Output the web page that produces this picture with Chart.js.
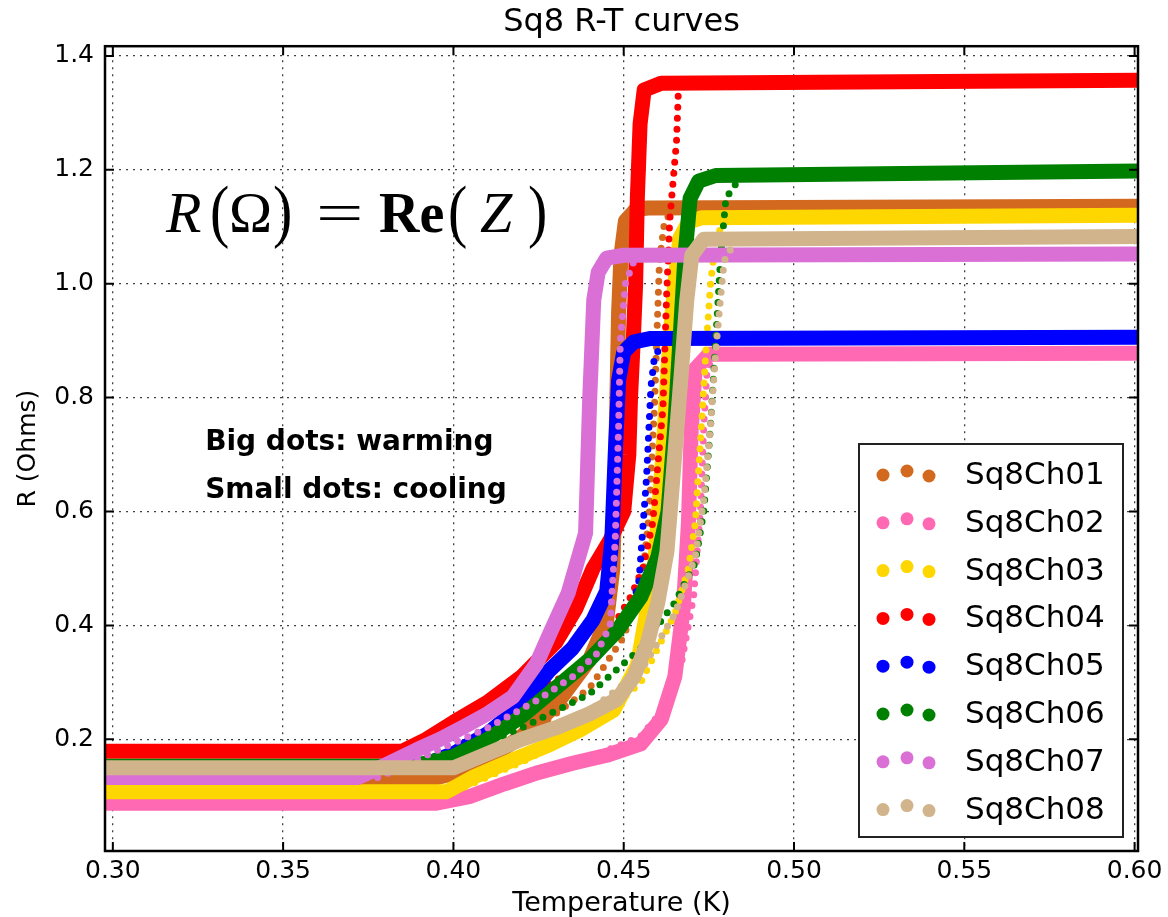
<!DOCTYPE html>
<html lang="en">
<head>
<meta charset="UTF-8">
<title>Sq8 R-T curves</title>
<script src="https://cdn.jsdelivr.net/npm/chart.js"></script>
<style>
  html, body { margin: 0; padding: 0; background: #fff; }
  #chartContainer { width: 1168px; height: 917px; position: relative; }
</style>
</head>
<body>
<div id="chartContainer"><canvas id="rtChart" width="1168" height="917"></canvas></div>
<script>
const channels = ['Sq8Ch01', 'Sq8Ch02', 'Sq8Ch03', 'Sq8Ch04', 'Sq8Ch05', 'Sq8Ch06', 'Sq8Ch07', 'Sq8Ch08'];
const colors = ['#D2691E', '#FF69B4', '#FFD700', '#FF0000', '#0000FF', '#008000', '#DA70D6', '#D2B48C'];

const tempTicks = [0.30, 0.35, 0.40, 0.45, 0.50, 0.55, 0.60];
const resTicks = [0.2, 0.4, 0.6, 0.8, 1.0, 1.2, 1.4];

// warming sweeps (big dots): temperature K / resistance Ohm
const ch01WarmT = [0.297, 0.390, 0.400, 0.410, 0.420, 0.430, 0.440, 0.445, 0.4468, 0.4475, 0.448, 0.4485, 0.4492, 0.4505, 0.4535, 0.457, 0.601];
const ch01WarmR = [0.125, 0.125, 0.140, 0.165, 0.205, 0.260, 0.340, 0.410, 0.500, 0.650, 0.800, 0.950, 1.050, 1.110, 1.130, 1.133, 1.136];
const ch02WarmT = [0.297, 0.395, 0.405, 0.415, 0.425, 0.435, 0.445, 0.455, 0.461, 0.465, 0.4675, 0.469, 0.4698, 0.4710, 0.4750, 0.601];
const ch02WarmR = [0.088, 0.088, 0.100, 0.122, 0.142, 0.158, 0.172, 0.192, 0.235, 0.310, 0.430, 0.580, 0.740, 0.850, 0.876, 0.878];
const ch03WarmT = [0.297, 0.398, 0.406, 0.4175, 0.428, 0.437, 0.447, 0.454, 0.459, 0.4615, 0.4635, 0.465, 0.4665, 0.469, 0.473, 0.601];
const ch03WarmR = [0.108, 0.108, 0.134, 0.164, 0.190, 0.216, 0.251, 0.330, 0.500, 0.700, 0.900, 1.000, 1.080, 1.108, 1.116, 1.120];
const ch04WarmT = [0.297, 0.385, 0.392, 0.400, 0.410, 0.420, 0.430, 0.436, 0.441, 0.446, 0.450, 0.4515, 0.452, 0.4528, 0.4535, 0.454, 0.4548, 0.456, 0.461, 0.601];
const ch04WarmR = [0.179, 0.179, 0.200, 0.230, 0.265, 0.310, 0.370, 0.430, 0.500, 0.550, 0.600, 0.700, 0.800, 0.900, 1.000, 1.150, 1.280, 1.340, 1.352, 1.357];
const ch05WarmT = [0.297, 0.390, 0.400, 0.410, 0.420, 0.428, 0.435, 0.441, 0.445, 0.4465, 0.4475, 0.4485, 0.450, 0.453, 0.458, 0.601];
const ch05WarmR = [0.152, 0.152, 0.175, 0.210, 0.260, 0.320, 0.360, 0.410, 0.460, 0.550, 0.700, 0.830, 0.880, 0.898, 0.904, 0.906];
const ch06WarmT = [0.297, 0.388, 0.400, 0.410, 0.420, 0.430, 0.440, 0.448, 0.455, 0.460, 0.463, 0.465, 0.4665, 0.468, 0.4695, 0.472, 0.477, 0.601];
const ch06WarmR = [0.153, 0.153, 0.170, 0.200, 0.240, 0.290, 0.340, 0.390, 0.450, 0.520, 0.600, 0.750, 0.900, 1.050, 1.150, 1.180, 1.190, 1.198];
const ch07WarmT = [0.297, 0.372, 0.380, 0.389, 0.396, 0.403, 0.410, 0.4175, 0.4244, 0.4284, 0.4337, 0.4388, 0.4400, 0.4412, 0.4425, 0.445, 0.450, 0.601];
const ch07WarmR = [0.133, 0.133, 0.155, 0.181, 0.200, 0.222, 0.245, 0.275, 0.333, 0.387, 0.457, 0.562, 0.796, 0.971, 1.020, 1.045, 1.050, 1.052];
const ch08WarmT = [0.297, 0.400, 0.410, 0.420, 0.430, 0.440, 0.448, 0.453, 0.457, 0.460, 0.4627, 0.465, 0.467, 0.4685, 0.470, 0.4735, 0.601];
const ch08WarmR = [0.150, 0.150, 0.175, 0.200, 0.220, 0.245, 0.270, 0.310, 0.370, 0.440, 0.530, 0.700, 0.850, 0.970, 1.050, 1.078, 1.083];

// cooling sweeps (small dots)
const ch01CoolT = [0.297, 0.395, 0.420, 0.440, 0.450, 0.4555, 0.4575, 0.4590, 0.4598, 0.4605, 0.4620, 0.4650, 0.601];
const ch01CoolR = [0.125, 0.125, 0.200, 0.290, 0.380, 0.480, 0.600, 0.780, 0.920, 1.040, 1.110, 1.133, 1.136];
const ch02CoolT = [0.297, 0.398, 0.420, 0.440, 0.455, 0.462, 0.467, 0.4705, 0.4725, 0.4735, 0.4745, 0.4770, 0.601];
const ch02CoolR = [0.088, 0.088, 0.130, 0.168, 0.205, 0.255, 0.335, 0.450, 0.600, 0.750, 0.850, 0.876, 0.878];
const ch03CoolT = [0.297, 0.400, 0.420, 0.440, 0.455, 0.465, 0.469, 0.471, 0.4725, 0.474, 0.4755, 0.477, 0.480, 0.601];
const ch03CoolR = [0.108, 0.108, 0.160, 0.220, 0.300, 0.420, 0.500, 0.580, 0.720, 0.870, 1.000, 1.080, 1.114, 1.120];
const ch04CoolT = [0.297, 0.388, 0.400, 0.420, 0.435, 0.445, 0.452, 0.4556, 0.4585, 0.4615, 0.4626, 0.4635, 0.4655, 0.466, 0.468, 0.601];
const ch04CoolR = [0.179, 0.179, 0.210, 0.270, 0.320, 0.380, 0.450, 0.500, 0.580, 0.780, 0.980, 1.110, 1.250, 1.330, 1.352, 1.357];
const ch05CoolT = [0.297, 0.395, 0.420, 0.435, 0.445, 0.452, 0.4545, 0.4567, 0.458, 0.459, 0.4615, 0.465, 0.601];
const ch05CoolR = [0.152, 0.152, 0.250, 0.320, 0.370, 0.420, 0.480, 0.660, 0.820, 0.870, 0.898, 0.904, 0.906];
const ch06CoolT = [0.297, 0.395, 0.420, 0.440, 0.455, 0.465, 0.471, 0.4735, 0.4755, 0.477, 0.4785, 0.480, 0.484, 0.601];
const ch06CoolR = [0.153, 0.153, 0.220, 0.280, 0.360, 0.440, 0.510, 0.600, 0.750, 0.900, 1.050, 1.150, 1.185, 1.198];
const ch07CoolT = [0.297, 0.378, 0.395, 0.410, 0.425, 0.435, 0.442, 0.446, 0.4475, 0.4485, 0.449, 0.4505, 0.453, 0.458, 0.601];
const ch07CoolR = [0.133, 0.133, 0.180, 0.220, 0.270, 0.310, 0.350, 0.400, 0.550, 0.750, 0.900, 1.000, 1.040, 1.050, 1.052];
const ch08CoolT = [0.297, 0.402, 0.420, 0.440, 0.455, 0.465, 0.471, 0.4735, 0.4755, 0.477, 0.4785, 0.4795, 0.483, 0.601];
const ch08CoolR = [0.150, 0.150, 0.200, 0.250, 0.320, 0.420, 0.520, 0.620, 0.750, 0.880, 0.980, 1.040, 1.078, 1.083];

const warming = [
  [ch01WarmT, ch01WarmR], [ch02WarmT, ch02WarmR], [ch03WarmT, ch03WarmR], [ch04WarmT, ch04WarmR],
  [ch05WarmT, ch05WarmR], [ch06WarmT, ch06WarmR], [ch07WarmT, ch07WarmR], [ch08WarmT, ch08WarmR]
];
const cooling = [
  [ch01CoolT, ch01CoolR], [ch02CoolT, ch02CoolR], [ch03CoolT, ch03CoolR], [ch04CoolT, ch04CoolR],
  [ch05CoolT, ch05CoolR], [ch06CoolT, ch06CoolR], [ch07CoolT, ch07CoolR], [ch08CoolT, ch08CoolR]
];

const toPoints = (ts, rs) => ts.map((t, i) => ({ x: t, y: rs[i] }));

const datasets = [];
channels.forEach((name, i) => {
  // later channels are painted over earlier ones (higher order = drawn first)
  datasets.push({
    label: name + ' warming',
    data: toPoints(warming[i][0], warming[i][1]),
    showLine: true,
    borderColor: colors[i],
    borderWidth: 15,
    borderCapStyle: 'round',
    borderJoinStyle: 'round',
    pointRadius: 0,
    clip: 0,
    order: 100 - 2 * i
  });
  datasets.push({
    label: name + ' cooling',
    data: toPoints(cooling[i][0], cooling[i][1]),
    showLine: true,
    borderColor: colors[i],
    borderWidth: 7,
    borderDash: [0, 11],
    borderCapStyle: 'round',
    borderJoinStyle: 'round',
    pointRadius: 0,
    clip: 0,
    order: 99 - 2 * i
  });
});

const FONT = '"DejaVu Sans", sans-serif';
const SERIF = '"Liberation Serif", "DejaVu Serif", serif';

// axes frame and inward tick marks, like the matplotlib box
const frame = {
  id: 'frame',
  afterDatasetsDraw(chart) {
    const { ctx, chartArea: a, scales } = chart;
    ctx.save();
    ctx.strokeStyle = '#000';
    ctx.lineWidth = 2;
    tempTicks.forEach(v => {
      const px = scales.x.getPixelForValue(v);
      ctx.beginPath();
      ctx.moveTo(px, a.bottom); ctx.lineTo(px, a.bottom - 9);
      ctx.moveTo(px, a.top); ctx.lineTo(px, a.top + 9);
      ctx.stroke();
    });
    resTicks.forEach(v => {
      const py = scales.y.getPixelForValue(v);
      ctx.beginPath();
      ctx.moveTo(a.left, py); ctx.lineTo(a.left + 9, py);
      ctx.moveTo(a.right, py); ctx.lineTo(a.right - 9, py);
      ctx.stroke();
    });
    ctx.lineWidth = 2.5;
    ctx.strokeRect(a.left, a.top, a.right - a.left, a.bottom - a.top);
    ctx.restore();
  }
};

// one glyph of the formula, optionally stretched
function glyph(ctx, font, text, x, y, sx, sy) {
  ctx.save();
  ctx.font = font;
  ctx.translate(x, y);
  ctx.scale(sx, sy);
  ctx.fillText(text, 0, 0);
  ctx.restore();
}

// scatter-style legend box with three markers per entry, plus the annotations
const overlay = {
  id: 'overlay',
  afterDraw(chart) {
    const { ctx, chartArea: a, scales } = chart;
    ctx.save();

    const w = 264, h = 393;
    const x0 = a.right - 15 - w, y0 = a.bottom - 14 - h;
    ctx.fillStyle = '#fff';
    ctx.fillRect(x0, y0, w, h);
    ctx.strokeStyle = '#222';
    ctx.lineWidth = 2;
    ctx.strokeRect(x0, y0, w, h);
    ctx.font = '31px ' + FONT;
    ctx.textBaseline = 'alphabetic';
    channels.forEach((name, i) => {
      const cy = y0 + 29 + i * 47.8;
      [[24, 2], [48, -2], [70, 3]].forEach(([dx, dy]) => {
        ctx.beginPath();
        ctx.arc(x0 + dx, cy + dy, 6.5, 0, Math.PI * 2);
        ctx.fillStyle = colors[i];
        ctx.fill();
      });
      ctx.fillStyle = '#000';
      ctx.fillText(name, x0 + 106, cy + 11);
    });

    // R(Ω) = Re(Z) set in a TeX-like serif
    const fx = scales.x.getPixelForValue(0.3156);
    const fy = scales.y.getPixelForValue(1.090);
    ctx.fillStyle = '#000';
    glyph(ctx, 'italic 58px ' + SERIF, 'R', fx, fy, 1, 1);
    glyph(ctx, '58px ' + SERIF, '(', fx + 44, fy + 2, 1, 1.19);
    glyph(ctx, '58px ' + SERIF, '\u03A9', fx + 63, fy, 1, 1);
    glyph(ctx, '58px ' + SERIF, ')', fx + 107, fy + 2, 1, 1.19);
    glyph(ctx, '58px ' + SERIF, '=', fx + 150, fy, 1.45, 1);
    glyph(ctx, 'bold 56px ' + SERIF, 'Re', fx + 213, fy, 1, 1);
    glyph(ctx, '58px ' + SERIF, '(', fx + 282, fy + 2, 1, 1.19);
    glyph(ctx, 'italic 58px ' + SERIF, 'Z', fx + 314, fy, 1, 1);
    glyph(ctx, '58px ' + SERIF, ')', fx + 362, fy + 2, 1, 1.19);

    ctx.font = 'bold 28px ' + FONT;
    const nx = scales.x.getPixelForValue(0.3271);
    ctx.fillText('Big dots: warming', nx, scales.y.getPixelForValue(0.7077));
    ctx.fillText('Small dots: cooling', nx, scales.y.getPixelForValue(0.6236));
    ctx.restore();
  }
};

new Chart(document.getElementById('rtChart'), {
  type: 'scatter',
  data: { datasets },
  options: {
    responsive: false,
    animation: false,
    events: [],
    layout: { padding: { left: 0, right: 30, top: 0, bottom: 0 } },
    plugins: {
      legend: { display: false },
      tooltip: { enabled: false },
      title: {
        display: true,
        fullSize: false,
        text: 'Sq8 R-T curves',
        color: '#000',
        font: { family: FONT, size: 32, weight: 'normal', lineHeight: 1.1 },
        padding: { top: 5, bottom: 6 }
      }
    },
    scales: {
      x: {
        type: 'linear',
        min: 0.2977,
        max: 0.601,
        afterBuildTicks: s => { s.ticks = tempTicks.map(v => ({ value: v })); },
        afterFit: s => { s.height = 66; },
        ticks: {
          color: '#000',
          padding: 5,
          font: { family: FONT, size: 25 },
          callback: v => v.toFixed(2)
        },
        grid: { color: 'rgba(0,0,0,0.75)', lineWidth: 1.3, drawTicks: false },
        border: { display: false, dash: [2, 5] },
        title: {
          display: true,
          text: 'Temperature (K)',
          color: '#000',
          font: { family: FONT, size: 27, lineHeight: 1 },
          padding: 0
        }
      },
      y: {
        type: 'linear',
        min: 0.004,
        max: 1.417,
        afterBuildTicks: s => { s.ticks = resTicks.map(v => ({ value: v })); },
        afterFit: s => { s.width = 105; },
        ticks: {
          color: '#000',
          padding: 11,
          font: { family: FONT, size: 25 },
          callback: v => v.toFixed(1)
        },
        grid: { color: 'rgba(0,0,0,0.75)', lineWidth: 1.3, drawTicks: false },
        border: { display: false, dash: [2, 5] },
        title: {
          display: true,
          text: 'R (Ohms)',
          color: '#000',
          font: { family: FONT, size: 25, lineHeight: 1.2 },
          padding: { top: 13, bottom: 0 }
        }
      }
    }
  },
  plugins: [frame, overlay]
});
</script>
</body>
</html>
